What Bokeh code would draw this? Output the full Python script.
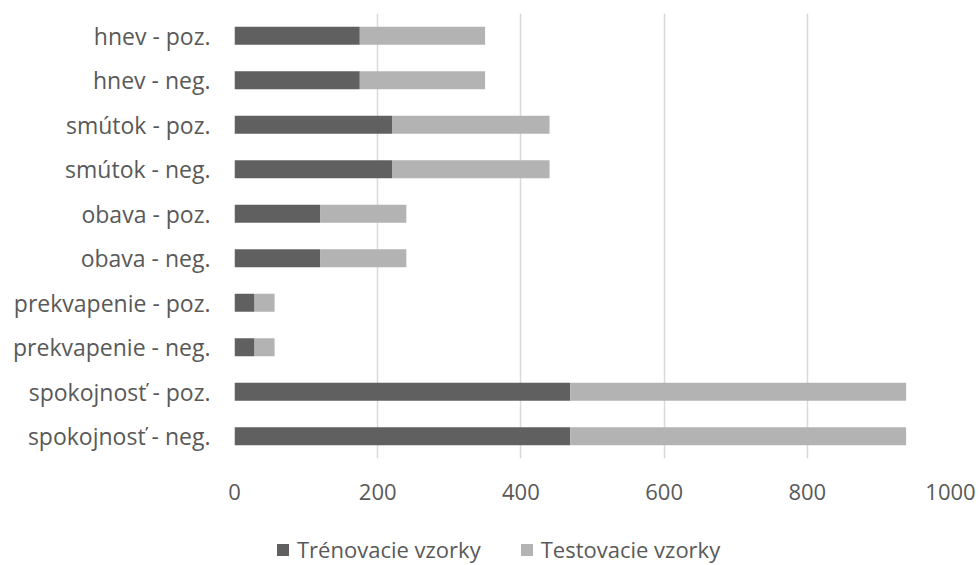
from bokeh.plotting import figure
from bokeh.models import Legend, LegendItem, FactorRange, ColumnDataSource
from bokeh.layouts import column
from bokeh.embed import file_html
from bokeh.resources import INLINE

# Categories listed bottom to top
categories = [
    "spokojnosť - neg.", "spokojnosť - poz.",
    "prekvapenie - neg.", "prekvapenie - poz.",
    "obava - neg.", "obava - poz.",
    "smútok - neg.", "smútok - poz.",
    "hnev - neg.", "hnev - poz.",
]
train = [469, 469, 28, 28, 120, 120, 220, 220, 175, 175]
test = [469, 469, 28, 28, 120, 120, 220, 220, 175, 175]
series_names = ["Trénovacie vzorky", "Testovacie vzorky"]
colors = ["#606060", "#b3b3b3"]
x_ticks = [0, 200, 400, 600, 800, 1000]

FONT = "Open Sans"
FONT_SIZE = "22px"
TEXT = "#595959"

p = figure(
    frame_width=716, frame_height=445,
    y_range=FactorRange(factors=categories, range_padding=0),
    x_range=(0, 1000),
    output_backend="svg", toolbar_location=None,
    min_border_left=234, min_border_right=30,
    min_border_top=13, min_border_bottom=52,
)

data = {"cat": categories, "train": train, "test": test}
p.hbar_stack(
    ["train", "test"], y="cat", height=0.4, color=colors,
    line_color=None, source=data,
)

p.outline_line_color = None
p.background_fill_color = "white"

p.xaxis.ticker = x_ticks
p.xaxis.axis_line_color = None
p.xaxis.major_tick_line_color = None
p.xaxis.minor_tick_line_color = None
p.xaxis.major_label_text_font = FONT
p.xaxis.major_label_text_font_size = FONT_SIZE
p.xaxis.major_label_text_color = TEXT
p.xaxis.major_label_standoff = 19

p.yaxis.axis_line_color = None
p.yaxis.major_tick_line_color = None
p.yaxis.minor_tick_line_color = None
p.yaxis.major_label_text_font = FONT
p.yaxis.major_label_text_font_size = "23px"
p.yaxis.major_label_text_color = TEXT
p.yaxis.major_label_standoff = 18

p.ygrid.grid_line_color = None
p.xgrid.grid_line_color = "#d9d9d9"
p.xgrid.grid_line_width = 1.5

# Legend strip below the chart (its frame lines up with the chart frame)
lg = figure(
    frame_width=716, frame_height=55, x_range=(0, 1), y_range=(0, 1),
    output_backend="svg", toolbar_location=None,
    min_border_left=234, min_border_right=30, min_border_top=0, min_border_bottom=0,
    outline_line_color=None,
)
lg.axis.visible = False
lg.grid.visible = False
# zero-width key bars: they draw nothing in the strip, only the legend swatches
key = ColumnDataSource(data=dict(y=[0], left=[0], right=[0]))
swatches = [
    lg.hbar(y="y", left="left", right="right", height=0.5, source=key,
            fill_color=c, line_color=None)
    for c in colors
]
legend = Legend(
    items=[LegendItem(label=n, renderers=[r]) for n, r in zip(series_names, swatches)],
    orientation="horizontal", location=(41, 1),
    label_text_font=FONT, label_text_font_size=FONT_SIZE, label_text_color=TEXT,
    glyph_width=15, glyph_height=15, spacing=38, label_standoff=7,
    border_line_color=None, background_fill_alpha=0, margin=0, padding=0,
)
lg.add_layout(legend, "center")

open("out.html", "w").write(file_html(column(p, lg, spacing=0), INLINE))
